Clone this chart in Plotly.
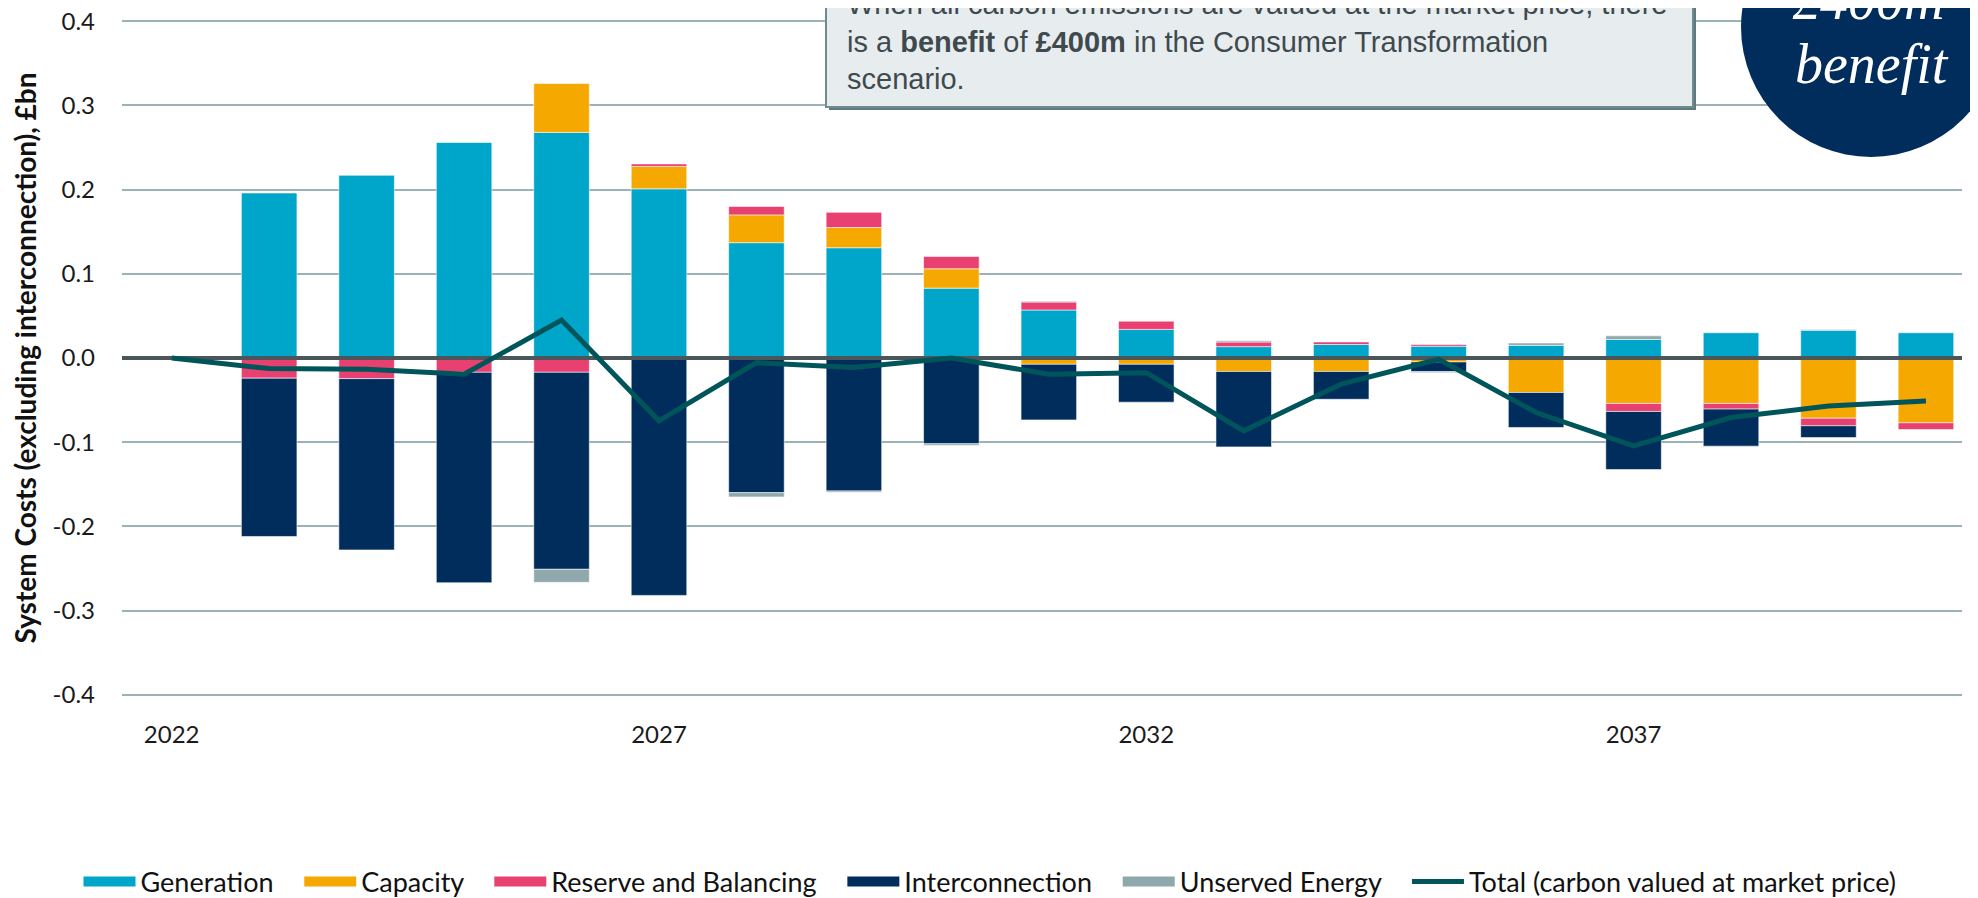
import plotly.graph_objects as go

# data (£bn)
years = list(range(2022, 2041))

generation = [None, 0.196, 0.217, 0.256, 0.268, 0.201, 0.137, 0.131, 0.083, 0.057,
              0.034, 0.0135, 0.016, 0.014, 0.015, 0.022, 0.030, 0.033, 0.030]
capacity = [None, None, None, None, 0.058, 0.0265, 0.033, 0.024, 0.023, -0.0075,
            -0.0075, -0.016, -0.016, -0.0047, -0.041, -0.054, -0.054, -0.0715, -0.077]
reserve = [None, -0.024, -0.0245, -0.017, -0.017, 0.003, 0.010, 0.018, 0.0146, 0.0095,
           0.0098, 0.0055, 0.003, 0.002, None, -0.0095, -0.0067, -0.009, -0.008]
interconnection = [None, -0.188, -0.2035, -0.250, -0.234, -0.282, -0.160, -0.158, -0.102, -0.066,
                   -0.045, -0.0896, -0.033, -0.0115, -0.0415, -0.069, -0.044, -0.014, None]
unserved = [None, None, None, None, -0.0155, None, -0.005, -0.0015, -0.002, 0.001,
            None, 0.0015, None, -0.0012, 0.0028, 0.0043, None, 0.001, None]
total = [0.0, -0.0126, -0.0134, -0.0193, 0.045, -0.0746, -0.0055, -0.0114, 0.0, -0.0193,
         -0.0174, -0.0865, -0.031, -0.0015, -0.0648, -0.1043, -0.0707, -0.0569, -0.051]

y_ticks = [-0.4, -0.3, -0.2, -0.1, 0.0, 0.1, 0.2, 0.3, 0.4]
y_labels = ["-0.4", "-0.3", "-0.2", "-0.1", "0.0", "0.1", "0.2", "0.3", "0.4"]
x_ticks = [2022, 2027, 2032, 2037]
x_range = [2021.49, 2040.37]
y_range = [-0.4015, 0.4015]  # a hair wider so the ±0.4 gridlines still get drawn

# the page body adds an 8px margin, so the figure is drawn 8px smaller
OFF = 8
W, H = 1978 - OFF, 898 - OFF
# plot area edges in page pixels
PL, PR, PT, PB = 122, 1962, 20, 696


def px(x):
    return (x - PL) / (PR - PL)


def py(y):
    return (PB - y) / (PB - PT)


FONT = "Lato, Calibri, sans-serif"
bar_line = dict(width=0.8, color="rgba(255,255,255,0.7)")
PAD = "\u00a0\u00a0\u00a0"  # a little extra room between legend entries

fig = go.Figure()
series = [
    ("Generation", generation, "#00A5CA"),
    ("Capacity", capacity, "#F5A800"),
    ("Reserve and Balancing", reserve, "#E84070"),
    ("Interconnection", interconnection, "#002D5C"),
    ("Unserved Energy", unserved, "#8FA8AC"),
]
for name, vals, col in series:
    fig.add_trace(go.Bar(x=years, y=vals, name=name, width=0.57, showlegend=False,
                         marker=dict(color=col, line=bar_line)))
    # wide legend swatch, like the original key
    fig.add_trace(go.Scatter(x=[None], y=[None], mode="lines", name=name + PAD,
                             line=dict(color=col, width=17)))

# zero line sits above bars but under the total line
fig.add_trace(go.Scatter(x=x_range, y=[0, 0], mode="lines", showlegend=False,
                         line=dict(color="#4A565A", width=4), hoverinfo="skip"))
fig.add_trace(go.Scatter(x=years, y=total, mode="lines",
                         name="Total (carbon valued at market price)",
                         line=dict(color="#00555A", width=5)))

# callout box with a small drop shadow
fig.add_shape(type="rect", xref="paper", yref="paper",
              x0=px(829), x1=px(1696), y0=py(110), y1=py(-60),
              fillcolor="#5F7A7E", line=dict(width=0))
fig.add_shape(type="rect", xref="paper", yref="paper",
              x0=px(826), x1=px(1693), y0=py(107), y1=py(-60),
              fillcolor="#E7EDEF", line=dict(color="#6F8B8F", width=2))
fig.add_annotation(
    xref="paper", yref="paper", x=px(845), y=py(97),
    xanchor="left", yanchor="bottom", align="left", showarrow=False,
    text=("When all carbon emissions are valued at the market price, there<br>"
          "is a <b>benefit</b> of <b>£400m</b> in the Consumer Transformation<br>"
          "scenario."),
    font=dict(family="Liberation Sans, Arial, sans-serif", size=29, color="#3F4A4E"),
)

# navy badge
fig.add_shape(type="circle", xref="paper", yref="paper",
              x0=px(1741), x1=px(2001), y0=py(157), y1=py(-103),
              fillcolor="#002D5C", line=dict(width=0))
badge_font = dict(family="Liberation Serif, Times New Roman, serif", size=56, color="white")
fig.add_annotation(xref="paper", yref="paper", x=px(1868), y=py(0), showarrow=False,
                   xanchor="center", yanchor="middle", text="<i>£400m</i>", font=badge_font)
fig.add_annotation(xref="paper", yref="paper", x=px(1872), y=py(64), showarrow=False,
                   xanchor="center", yanchor="middle", text="<i>benefit</i>", font=badge_font)

fig.update_layout(
    width=W, height=H,
    barmode="relative",
    plot_bgcolor="white", paper_bgcolor="white",
    margin=dict(l=PL - OFF, r=W - (PR - OFF), t=PT - OFF, b=H - (PB - OFF), autoexpand=False),
    font=dict(family=FONT, color="#1A1A1A"),
    legend=dict(orientation="h", x=px(990), xanchor="center",
                yref="container", y=(H - (882 - OFF)) / H, yanchor="middle",
                itemwidth=52,
                font=dict(size=27, family=FONT, color="#111111"), traceorder="normal"),
    showlegend=True,
)
fig.update_xaxes(range=x_range, tickvals=x_ticks, showgrid=False, zeroline=False,
                 showline=False, ticks="", ticklabelstandoff=22, automargin=False,
                 tickfont=dict(size=24, family=FONT))
fig.update_yaxes(range=y_range, tickvals=y_ticks, ticktext=y_labels,
                 showgrid=True, gridcolor="#9DB2B6", gridwidth=2, zeroline=False,
                 showline=False, ticks="", ticklabelstandoff=26, automargin=False,
                 ticklabeloverflow="allow",
                 tickfont=dict(size=24, family=FONT),
                 title=dict(text="<b>System Costs (excluding interconnection), £bn</b>",
                            font=dict(size=28, family=FONT, color="#111111"), standoff=14))

fig.write_html("out.html")
